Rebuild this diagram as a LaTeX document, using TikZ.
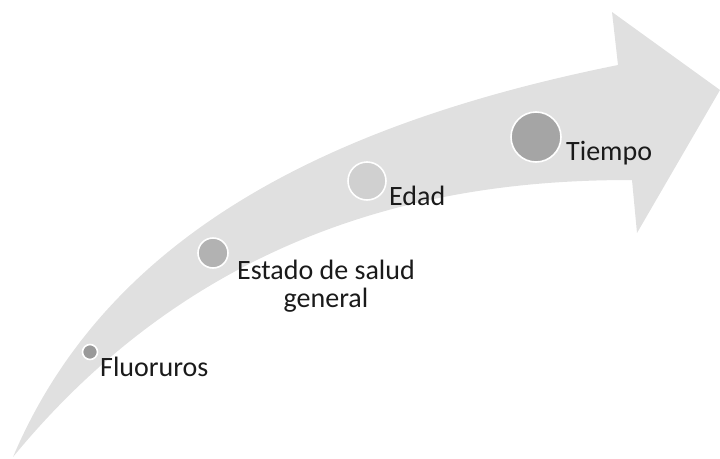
\documentclass[tikz,border=0pt]{standalone}
\usepackage{fontspec}
\setmainfont{Carlito}
\definecolor{arrowgrey}{HTML}{E0E0E0}
\definecolor{dotA}{HTML}{999999}
\definecolor{dotB}{HTML}{B2B2B2}
\definecolor{dotC}{HTML}{D0D0D0}
\definecolor{dotD}{HTML}{A5A5A5}
\definecolor{ink}{HTML}{1A1A1A}
\begin{document}
\begin{tikzpicture}[x=1pt,y=-1pt,
  milestone/.style={circle, draw=white, line width=1.6pt, inner sep=0pt},
  label/.style={inner sep=0pt, text=ink, font=\fontsize{28}{30}\selectfont}]
\useasboundingbox (0,0) rectangle (720,458);
% curved arrow body and head
\fill[arrowgrey] (13,457) .. controls (105,240) and (320,125) .. (618,65)
  -- (612,12) -- (720,90) -- (637,233) -- (632,180)
  .. controls (480,180) and (220,205) .. (13,457) -- cycle;
% milestones along the arrow
\node[milestone, fill=dotA, minimum size=15pt] (fluor) at (90,352) {};
\node[milestone, fill=dotB, minimum size=30pt] (estado) at (213,253) {};
\node[milestone, fill=dotC, minimum size=38pt] (edad) at (367,181) {};
\node[milestone, fill=dotD, minimum size=50pt] (tiempo) at (536,137) {};
% labels
\node[label, anchor=base west] (tfluor) at (100,376) {Fluoruros};
\node[label, anchor=base] (testado) at (326,279) {Estado de salud};
\node[label, anchor=base] (tgeneral) at (326,307) {general};
\node[label, anchor=base west] (tedad) at (389,205) {Edad};
\node[label, anchor=base west] (ttiempo) at (566,160) {Tiempo};
\end{tikzpicture}
\end{document}
